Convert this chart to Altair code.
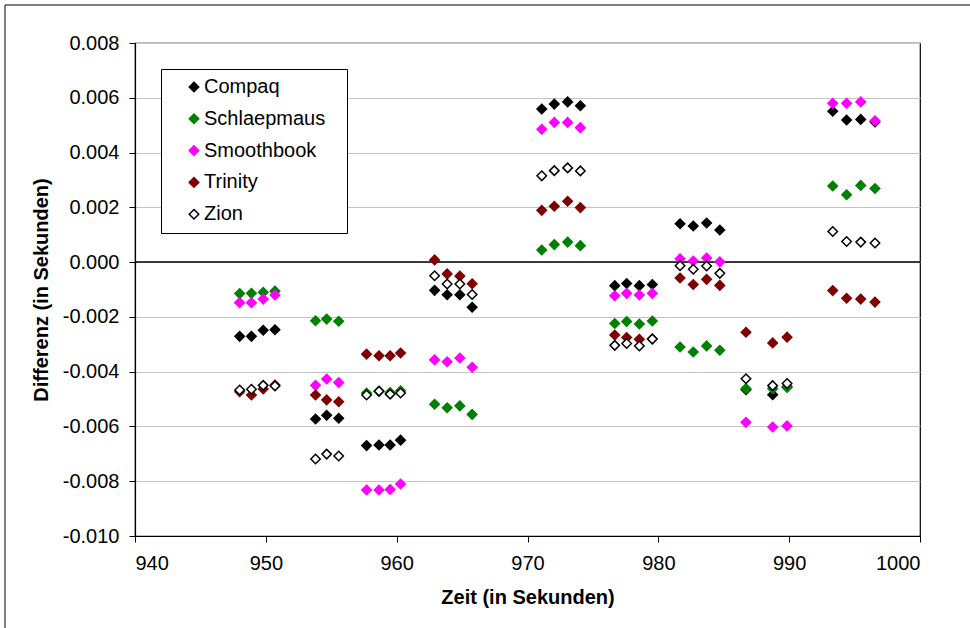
import altair as alt
import pandas as pd

# Zeitpunkte (in Sekunden)
zeit = [948.0, 948.9, 949.8, 950.7,
        953.8, 954.65, 955.57,
        957.7, 958.65, 959.5, 960.3,
        962.9, 963.86, 964.83, 965.77,
        971.09, 972.05, 973.07, 974.04,
        976.67, 977.58, 978.55, 979.54,
        981.66, 982.67, 983.69, 984.70,
        986.7, 988.74, 989.84,
        993.33, 994.39, 995.47, 996.56]

compaq = [-0.00271, -0.00271, -0.00249, -0.00247,
          -0.00573, -0.00559, -0.00570,
          -0.00670, -0.00668, -0.00668, -0.00650,
          -0.00103, -0.00119, -0.00119, -0.00165,
          0.00559, 0.00577, 0.00585, 0.00571,
          -0.00086, -0.00078, -0.00086, -0.00082,
          0.00140, 0.00132, 0.00143, 0.00117,
          -0.00466, -0.00484, -0.00455,
          0.00551, 0.00519, 0.00521, 0.00512]

schlaepmaus = [-0.00115, -0.00114, -0.00110, -0.00106,
               -0.00214, -0.00208, -0.00216,
               -0.00478, -0.00472, -0.00476, -0.00470,
               -0.00519, -0.00532, -0.00525, -0.00556,
               0.00044, 0.00064, 0.00073, 0.00060,
               -0.00224, -0.00217, -0.00226, -0.00215,
               -0.00310, -0.00328, -0.00306, -0.00322,
               -0.00462, -0.00462, -0.00458,
               0.00278, 0.00246, 0.00280, 0.00269]

smoothbook = [-0.00148, -0.00148, -0.00135, -0.00120,
              -0.00450, -0.00427, -0.00440,
              -0.00832, -0.00832, -0.00830, -0.00810,
              -0.00357, -0.00364, -0.00350, -0.00384,
              0.00485, 0.00510, 0.00510, 0.00491,
              -0.00123, -0.00114, -0.00120, -0.00114,
              0.00012, 0.00004, 0.00015, 0.00001,
              -0.00585, -0.00602, -0.00598,
              0.00580, 0.00580, 0.00585, 0.00516]

trinity = [-0.00473, -0.00485, -0.00463, -0.00449,
           -0.00485, -0.00503, -0.00510,
           -0.00336, -0.00342, -0.00342, -0.00332,
           0.00008, -0.00043, -0.00051, -0.00079,
           0.00189, 0.00204, 0.00222, 0.00199,
           -0.00266, -0.00275, -0.00282, -0.00280,
           -0.00058, -0.00082, -0.00063, -0.00085,
           -0.00256, -0.00295, -0.00274,
           -0.00104, -0.00132, -0.00135, -0.00146]

zion = [-0.00467, -0.00464, -0.00450, -0.00452,
        -0.00719, -0.00701, -0.00708,
        -0.00485, -0.00471, -0.00482, -0.00478,
        -0.00050, -0.00080, -0.00080, -0.00118,
        0.00315, 0.00334, 0.00344, 0.00333,
        -0.00304, -0.00297, -0.00306, -0.00281,
        -0.00013, -0.00026, -0.00014, -0.00041,
        -0.00426, -0.00451, -0.00443,
        0.00112, 0.00075, 0.00073, 0.00070]

series_names = ["Compaq", "Schlaepmaus", "Smoothbook", "Trinity", "Zion"]
series_values = [compaq, schlaepmaus, smoothbook, trinity, zion]
fill_colors = ["#000000", "#008000", "#FF00FF", "#800000", "#FFFFFF"]
stroke_colors = ["#000000", "#008000", "#FF00FF", "#800000", "#000000"]

x_ticks = [940, 950, 960, 970, 980, 990, 1000]
y_ticks = [-0.010, -0.008, -0.006, -0.004, -0.002, 0.0, 0.002, 0.004, 0.006, 0.008]

rows = []
for name, vals in zip(series_names, series_values):
    for t, v in zip(zeit, vals):
        rows.append({"Zeit": t, "Differenz": v, "Serie": name})
df = pd.DataFrame(rows)

FONT = "Liberation Sans"
W, H = 785, 493

x_enc = alt.X("Zeit:Q",
              scale=alt.Scale(domain=[940, 1000], nice=False, zero=False),
              axis=alt.Axis(values=x_ticks, format="d", grid=False,
                            title="Zeit (in Sekunden)", labelPadding=11,
                            titlePadding=14, tickSize=6))
y_enc = alt.Y("Differenz:Q",
              scale=alt.Scale(domain=[-0.010, 0.008], nice=False, zero=False),
              axis=alt.Axis(values=y_ticks,
                            labelExpr="(datum.value < -0.0000001 ? '-' : '') + format(abs(datum.value), '.3f')",
                            grid=True, gridColor="#c4c4c4", gridWidth=1,
                            title="Differenz (in Sekunden)", labelPadding=10,
                            titlePadding=11, tickSize=6))

legend = alt.Legend(title="x", titleOrient="right", titleColor="white",
                    titleFontSize=13, titlePadding=6,
                    orient="none", legendX=26, legendY=26,
                    fillColor="white", strokeColor="#000000", padding=8,
                    labelFontSize=20, labelFont=FONT, labelColor="black",
                    symbolSize=90, symbolStrokeWidth=1.5, symbolType="diamond",
                    rowPadding=11.8, symbolOffset=15, labelOffset=0)

frame = alt.Chart(pd.DataFrame({"a": [0]})).mark_rect(
    fillOpacity=0, stroke="#000000", strokeWidth=1
).encode(x=alt.value(-130), x2=alt.value(900), y=alt.value(-38), y2=alt.value(700))

zero_line = alt.Chart(pd.DataFrame({"a": [0]})).mark_rule(
    color="black", strokeWidth=1.5
).encode(y=alt.datum(0.0))

points = alt.Chart(df).mark_point(
    shape="diamond", filled=True, size=90, strokeWidth=1.5, opacity=1
).encode(
    x=x_enc, y=y_enc,
    fill=alt.Fill("Serie:N", scale=alt.Scale(domain=series_names, range=fill_colors), legend=legend),
    stroke=alt.Stroke("Serie:N", scale=alt.Scale(domain=series_names, range=stroke_colors), legend=legend),
)

chart = alt.layer(frame, zero_line, points).properties(
    width=W, height=H,
    autosize=alt.AutoSizeParams(type="none"),
    padding={"left": 135, "top": 43, "right": 50, "bottom": 92},
    background="white",
).configure_view(
    stroke="#000000", strokeWidth=1.2
).configure_axis(
    labelFont=FONT, labelFontSize=20, labelColor="black",
    titleFont=FONT, titleFontSize=20, titleFontWeight="bold", titleColor="black",
    domainColor="black", domainWidth=1.2, tickColor="black", tickWidth=1,
)

chart.save("out.html", embed_options={"renderer": "svg", "actions": False})
